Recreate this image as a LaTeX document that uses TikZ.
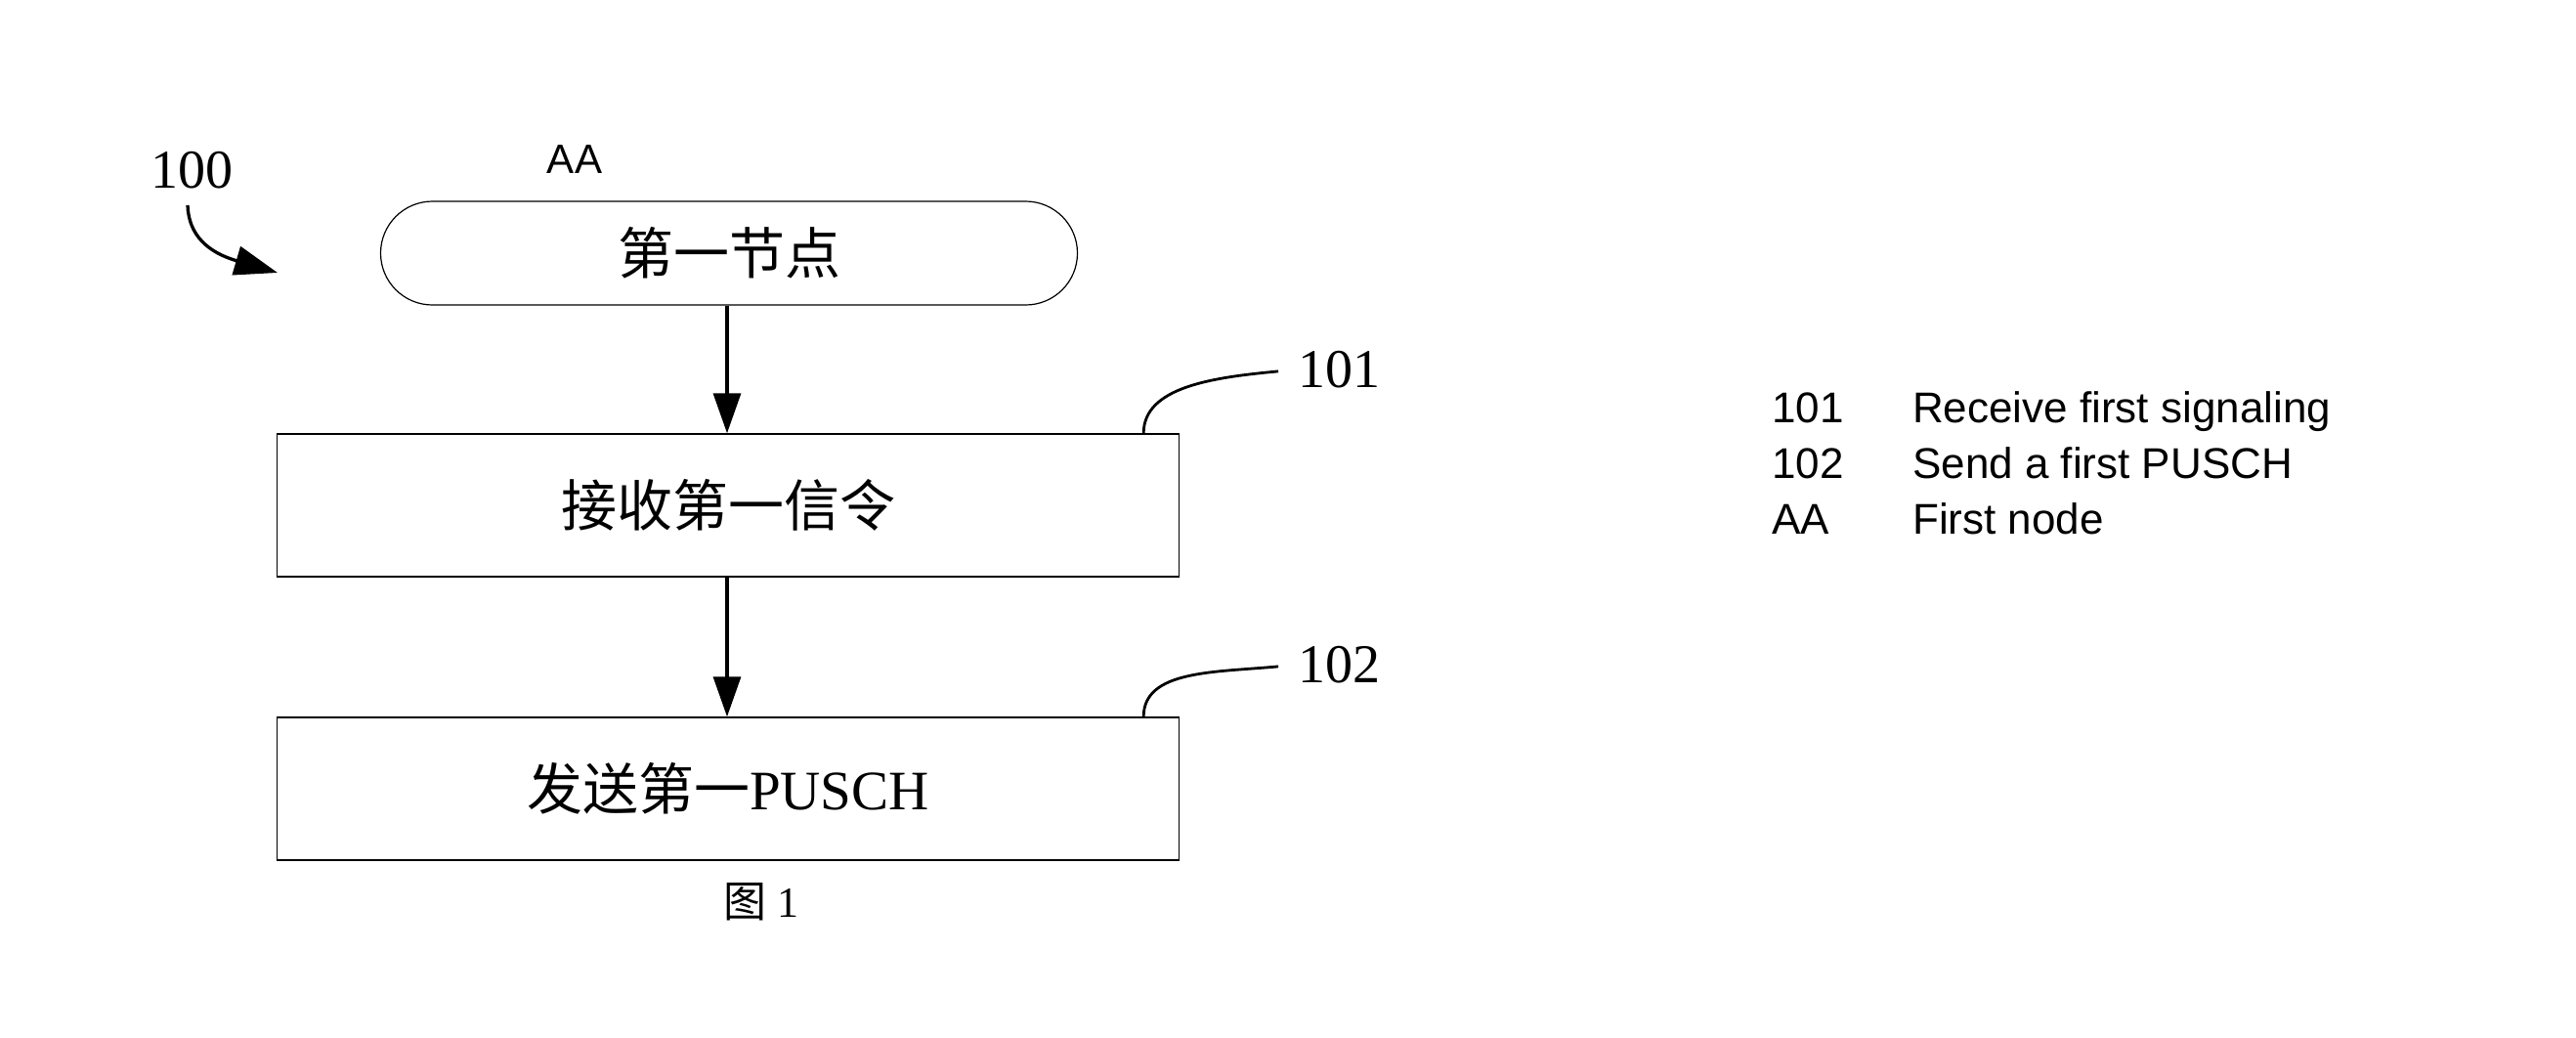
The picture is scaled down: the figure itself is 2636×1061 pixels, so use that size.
\documentclass[tikz,border=0pt]{standalone}
\usepackage{fontspec}
\setmainfont{Liberation Serif}
\newfontfamily\cjk{Noto Sans CJK SC}
\newfontfamily\arialf{Liberation Sans}
\usetikzlibrary{arrows.meta,calc}
\begin{document}
\begin{tikzpicture}[x=1pt,y=-1pt,
  boxst/.style={draw, line width=1.4pt, minimum width=923pt, minimum height=146pt, inner sep=0pt,
    font=\fontsize{57}{68}\selectfont},
  flowarrow/.style={line width=3.3pt, -{Triangle[length=41pt,width=28pt]}},
  callout/.style={line width=2.8pt, shorten >=20pt},
  reflabel/.style={inner sep=0pt, anchor=base, font=\fontsize{56}{66}\selectfont},
  legendst/.style={inner sep=0pt, anchor=base west, font=\arialf\fontsize{44}{52}\selectfont}]
\useasboundingbox (0,0) rectangle (2636,1061);

\node[draw, line width=1.2pt, rounded corners=53pt, minimum width=713pt, minimum height=106pt,
  inner sep=0pt, font=\cjk\fontsize{57}{68}\selectfont] (s0) at (746,259) {第一节点};
\node[inner sep=0pt, anchor=base, font=\arialf\fontsize{42}{50}\selectfont] (aa) at (588,177) {AA};

\node[boxst] (b1) at (745,517) {\cjk 接收第一信令};
\node[boxst] (b2) at (745,807) {{\cjk 发送第一}PUSCH};

\draw[flowarrow] (s0.south -| 744,0) -- (b1.north -| 744,0);
\draw[flowarrow] (b1.south -| 744,0) -- (b2.north -| 744,0);

\node[reflabel] (l100) at (196,192) {100};
\coordinate (a100s) at (192,210);
\coordinate (a100e) at (284,279);
\draw[line width=3.3pt, -{Triangle[length=44pt,width=30pt]}] (a100s) .. controls (193,240) and (212,258) .. (a100e);

\node[reflabel, anchor=west] (l101) at (1328,378) {101};
\node[reflabel, anchor=west] (l102) at (1328,680) {102};
\draw[callout] ($(b1.north east)+(-37,0)$) .. controls +(0,-48) and +(-85,8) .. (l101.west);
\draw[callout] ($(b2.north east)+(-37,0)$) .. controls +(0,-48) and +(-85,8) .. (l102.west);

\node[inner sep=0pt, anchor=base, font=\fontsize{44}{52}\selectfont] (fig) at (779,938) {{\cjk 图} 1};

\node[legendst] (k1) at (1813,432) {101};
\node[legendst] (v1) at (1957,432) {Receive first signaling};
\node[legendst] (k2) at (1813,489) {102};
\node[legendst] (v2) at (1957,489) {Send a first PUSCH};
\node[legendst] (k3) at (1813,546) {AA};
\node[legendst] (v3) at (1957,546) {First node};
\end{tikzpicture}
\end{document}
